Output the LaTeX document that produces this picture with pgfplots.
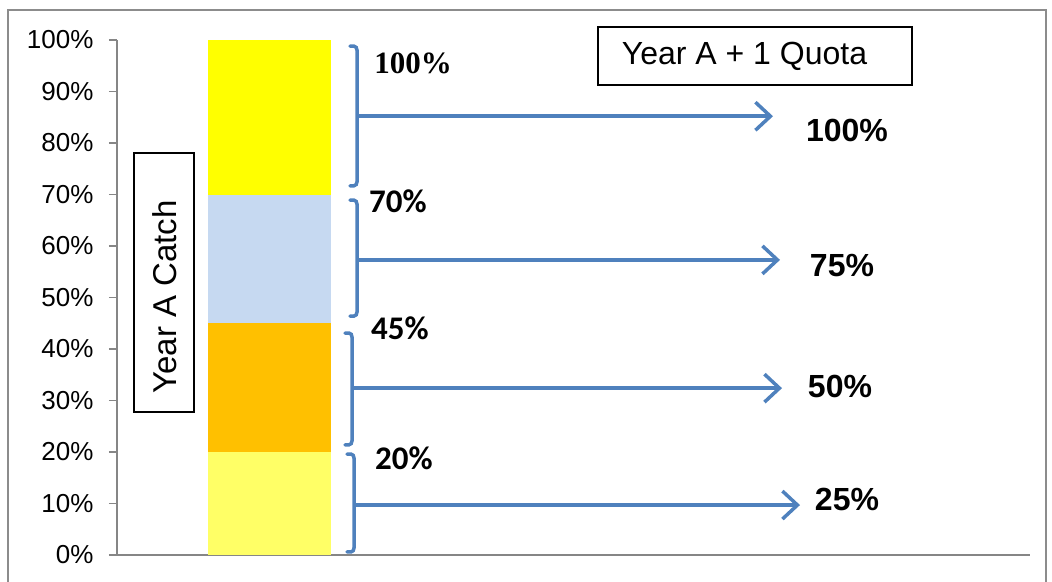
\documentclass[border=0pt]{standalone}
\usepackage{pgfplots}
\pgfplotsset{compat=1.18}
\usepackage{fontspec}
\setmainfont{Liberation Sans}
\newfontfamily\serifb{Liberation Serif}
\newfontfamily\carl{Carlito}
\usetikzlibrary{arrows.meta}
\definecolor{axisgray}{HTML}{868686}
\definecolor{bordergray}{HTML}{8C8C8C}
\definecolor{segA}{HTML}{FFFF66}
\definecolor{segB}{HTML}{FFC000}
\definecolor{segC}{HTML}{C6D9F1}
\definecolor{segD}{HTML}{FFFF00}
\definecolor{bluebr}{HTML}{4F81BD}
\newcommand\bracearrow[5]{% x, top, bottom, mid, arrow end x
  \draw[bluebr, line width=3.5pt, line cap=round]
    ([xshift=-7pt]axis cs:#1,#2) -- ([xshift=-3pt]axis cs:#1,#2)
    to[out=0,in=90] ([yshift=-4pt]axis cs:#1,#2)
    -- ([yshift=4pt]axis cs:#1,#3)
    to[out=-90,in=0] ([xshift=-3pt]axis cs:#1,#3)
    -- ([xshift=-7pt]axis cs:#1,#3);
  \draw[bluebr, line width=3.5pt, -{Straight Barb[length=15pt,width=28pt,line width=3.5pt]}]
    (axis cs:#1,#4) -- (axis cs:#5,#4);
}
\begin{document}
\begin{tikzpicture}
\begin{axis}[
  scale only axis, width=913pt, height=515pt,
  xmin=117, xmax=1030, ymin=0, ymax=100,
  axis x line=bottom, axis y line=left,
  axis line style={draw=axisgray, line width=1.5pt, -},
  xtick=\empty, ytick={0,10,...,100},
  /pgf/number format/assume math mode=true,
  yticklabel={\pgfmathprintnumber{\tick}\%},
  tick style={draw=axisgray, line width=1.5pt},
  major tick length=8pt, tick align=outside,
  yticklabel style={font=\fontsize{26}{30}\selectfont, xshift=-12pt},
  ybar stacked, bar width=123, clip=false,
]
\addplot[fill=segA, draw=none] coordinates {(269.5,20)};
\addplot[fill=segB, draw=none] coordinates {(269.5,25)};
\addplot[fill=segC, draw=none] coordinates {(269.5,25)};
\addplot[fill=segD, draw=none] coordinates {(269.5,30)};

% outer border
\draw[bordergray, line width=2pt] (axis cs:8,-6) -- (axis cs:8,105.8) -- (axis cs:1046,105.8) -- (axis cs:1046,-6);
\coordinate (BL) at (axis cs:0,-5.05);
\coordinate (TR) at (axis cs:1052,107.77);

% braces and arrows
\bracearrow{357}{98.8}{71.7}{85.2}{773}
\bracearrow{357}{68.9}{46.4}{57.3}{780}
\bracearrow{352}{43.1}{21.4}{32.4}{782}
\bracearrow{354}{19.6}{0.6}{9.7}{800}

% left labels
\node[font=\serifb\bfseries\fontsize{31}{34}\selectfont] at (axis cs:413,95.5) {100\%};
\node[font=\carl\bfseries\fontsize{33}{36}\selectfont] at (axis cs:398,68.7) {70\%};
\node[font=\carl\bfseries\fontsize{33}{36}\selectfont] at (axis cs:400,44.1) {45\%};
\node[font=\carl\bfseries\fontsize{33}{36}\selectfont] at (axis cs:404,18.8) {20\%};

% right labels
\node[font=\bfseries\fontsize{32}{36}\selectfont] at (axis cs:847,82.5) {100\%};
\node[font=\bfseries\fontsize{32}{36}\selectfont] at (axis cs:842,56.3) {75\%};
\node[font=\bfseries\fontsize{32}{36}\selectfont] at (axis cs:840,32.8) {50\%};
\node[font=\bfseries\fontsize{32}{36}\selectfont] at (axis cs:847,10.7) {25\%};

% boxes
\draw[black, line width=2pt] (axis cs:598,102.5) rectangle (axis cs:912,91.3);
\node[font=\fontsize{32}{35}\selectfont] at (axis cs:744.5,96.9) {Year A + 1 Quota};
\draw[black, line width=2pt] (axis cs:134,78.0) rectangle (axis cs:194,27.8);
\node[font=\fontsize{33}{36}\selectfont, rotate=90] at (axis cs:165,50.1) {Year A Catch};
\end{axis}
\pgfresetboundingbox
\path[use as bounding box] (BL) rectangle (TR);
\end{tikzpicture}
\end{document}
